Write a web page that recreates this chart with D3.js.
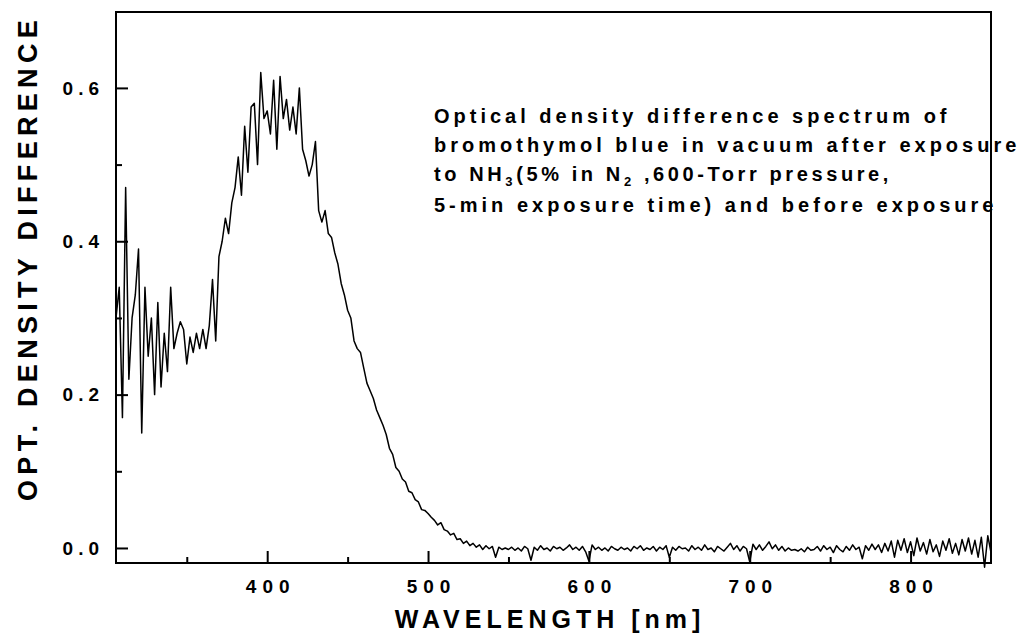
<!DOCTYPE html>
<html>
  <head>
      <meta charset ="utf-8">
      <title>OD difference spectrum</title>
      <script type="text/javascript" src="https://cdn.jsdelivr.net/npm/d3@7"></script>
      <style>
        body { margin: 0; background: #fff; }
        text { font-family: "Liberation Sans", Arial, sans-serif; font-weight: bold; fill: #000; }
      </style>
  </head>
    <body>

<script type="text/javascript">
// OD values, 2 nm steps from 306 nm to 850 nm
var od306to398 = [
  0.30, 0.34, 0.17, 0.47, 0.22, 0.30, 0.33, 0.39, 0.15, 0.34,
  0.25, 0.30, 0.20, 0.32, 0.21, 0.28, 0.23, 0.34, 0.26, 0.28,
  0.295, 0.285, 0.24, 0.275, 0.255, 0.28, 0.26, 0.285, 0.26, 0.29,
  0.35, 0.27, 0.38, 0.40, 0.43, 0.41, 0.45, 0.47, 0.51, 0.46,
  0.55, 0.49, 0.575, 0.58, 0.50, 0.62, 0.56
];
var od400to498 = [
  0.57, 0.54, 0.61, 0.52, 0.615, 0.56, 0.585, 0.545, 0.575, 0.54,
  0.60, 0.52, 0.505, 0.485, 0.50, 0.53, 0.44, 0.425, 0.44, 0.41,
  0.405, 0.385, 0.37, 0.345, 0.33, 0.31, 0.30, 0.27, 0.26, 0.255,
  0.235, 0.215, 0.205, 0.195, 0.18, 0.17, 0.16, 0.148, 0.13, 0.122,
  0.105, 0.10, 0.09, 0.086, 0.074, 0.072, 0.063, 0.06, 0.05, 0.049
];
var od500to548 = [
  0.045, 0.040, 0.036, 0.030, 0.033, 0.024, 0.022, 0.017, 0.019, 0.011,
  0.012, 0.006, 0.009, 0.003, 0.006, 0.001, 0.004, -0.002, 0.003, -0.001,
  0.002, -0.012, 0.001, -0.002, 0.000
];
var od550to850 = [
  -0.002, 0.001, -0.003, 0.000, -0.004, 0.002, -0.001, -0.016, 0.001, -0.003,
  0.003, -0.002, 0.000, -0.004, 0.002, -0.001, 0.001, -0.003, 0.000, 0.004,
  -0.002, 0.001, -0.003, 0.002, -0.005, -0.017, 0.004, -0.002, 0.001, -0.003,
  0.000, -0.004, 0.002, -0.001, -0.003, 0.001, -0.002, 0.000, -0.004, 0.002,
  -0.001, 0.003, -0.003, 0.000, -0.002, 0.002, -0.004, 0.001, -0.002, 0.003,
  -0.012, 0.001, -0.003, 0.002, -0.001, 0.000, -0.004, 0.003, -0.002, 0.001,
  -0.003, 0.004, -0.002, 0.000, -0.005, 0.002, -0.001, -0.004, 0.001, 0.006,
  -0.002, 0.003, -0.004, 0.002, -0.001, -0.018, 0.005, -0.002, 0.004, -0.003,
  0.002, 0.008, -0.001, 0.004, -0.003, 0.002, -0.004, 0.000, -0.003, -0.002,
  -0.004, -0.001, -0.005, 0.001, -0.003, -0.002, 0.002, -0.004, 0.003, -0.002,
  0.001, -0.006, 0.003, -0.002, -0.005, 0.002, -0.003, 0.004, -0.002, 0.001,
  -0.014, 0.003, -0.003, 0.005, -0.002, 0.004, -0.006, 0.006, -0.004, 0.009,
  -0.012, 0.010, -0.003, 0.012, -0.006, 0.008, -0.010, 0.013, -0.004, 0.007,
  -0.008, 0.011, -0.005, 0.004, -0.011, 0.009, -0.003, 0.012, -0.007, 0.006,
  -0.009, 0.011, -0.004, 0.013, -0.008, 0.010, -0.012, 0.014, -0.025, 0.016,
  -0.006
];
var xMajorTicks = [400, 500, 600, 700, 800];
var xMinorTicks = [350, 450, 550, 650, 750];
var yMajorTicks = [0.0, 0.2, 0.4, 0.6];
var yMinorTicks = [0.1, 0.3, 0.5];
var noteLines = [
  [{t: "Optical density difference spectrum of"}],
  [{t: "bromothymol blue in vacuum after exposure"}],
  [{t: "to NH"}, {t: "3", sub: true}, {t: "(5% in N"}, {t: "2", sub: true}, {t: " ,600-Torr pressure,"}],
  [{t: "5-min exposure time)  and before exposure"}]
];

var w = 1023;
var h = 644;
var pL = 116, pR = 991, pT = 12, pB = 563;

var wavelengths = d3.range(306, 851, 2);
var od = od306to398.concat(od400to498, od500to548, od550to850);
var dataset = wavelengths.map(function(d, i){ return [d, od[i]]; });

var svg = d3.select("body")
            .append("svg")
            .attr("width", w)
            .attr("height", h);

var Xscale = d3.scaleLinear()
              .domain([306, 850])
              .range([pL, pR]);
var Yscale = d3.scaleLinear()
              .domain([-0.0196, 0.699])
              .range([pB, pT]);

var line = d3.line()
             .x(function(d){ return Xscale(d[0]); })
             .y(function(d){ return Yscale(d[1]); });

svg.append("path")
   .datum(dataset)
   .attr("d", line)
   .attr("fill", "none")
   .attr("stroke", "#000")
   .attr("stroke-width", 1.5)
   .attr("stroke-linejoin", "round");

// inward ticks
var xAxis = d3.axisBottom(Xscale)
              .tickValues(xMajorTicks)
              .tickSize(-12)
              .tickPadding(17)
              .tickFormat(d3.format("d"));
var xMinor = d3.axisBottom(Xscale)
              .tickValues(xMinorTicks)
              .tickSize(-6)
              .tickFormat("");
var yAxis = d3.axisLeft(Yscale)
              .tickValues(yMajorTicks)
              .tickSize(-12)
              .tickPadding(12)
              .tickFormat(d3.format(".1f"));
var yMinor = d3.axisLeft(Yscale)
              .tickValues(yMinorTicks)
              .tickSize(-6)
              .tickFormat("");

[[xAxis, "translate(0," + pB + ")", 6], [xMinor, "translate(0," + pB + ")", 6],
 [yAxis, "translate(" + pL + ",0)", 5], [yMinor, "translate(" + pL + ",0)", 5]].forEach(function(a){
  var g = svg.append("g")
     .attr("transform", a[1])
     .call(a[0]);
  g.select(".domain").remove();
  g.selectAll(".tick line").attr("stroke", "#000").attr("stroke-width", 2);
  g.selectAll(".tick text")
   .style("font-size", "19px")
   .style("letter-spacing", a[2] + "px")
   .attr("fill", "#000");
});
svg.selectAll("g")
   .filter(function(){ return this.getAttribute("transform") === "translate(0," + pB + ")"; })
   .selectAll(".tick text")
   .attr("dx", 3);

svg.append("rect")
   .attr("x", pL)
   .attr("y", pT)
   .attr("width", pR - pL)
   .attr("height", pB - pT)
   .attr("fill", "none")
   .attr("stroke", "#000")
   .attr("stroke-width", 2);

svg.append("text")
   .attr("x", 550)
   .attr("y", 628)
   .attr("text-anchor", "middle")
   .style("font-size", "25px")
   .style("letter-spacing", "5px")
   .text("WAVELENGTH [nm]");

svg.append("text")
   .attr("transform", "translate(37,258) rotate(-90)")
   .attr("text-anchor", "middle")
   .style("font-size", "27px")
   .style("letter-spacing", "5.3px")
   .text("OPT. DENSITY DIFFERENCE");

var noteY = [123, 152, 181, 212];
var noteSpacing = [4, 4, 3.6, 4];
var note = svg.append("text")
              .style("font-size", "20px");
noteLines.forEach(function(parts, i){
  parts.forEach(function(p, j){
    var ts = note.append("tspan").text(p.t).style("letter-spacing", noteSpacing[i] + "px");
    if (j === 0) ts.attr("x", 434).attr("y", noteY[i]);
    if (p.sub) ts.attr("dy", 5).style("font-size", "13px");
    else if (j > 0 && parts[j - 1].sub) ts.attr("dy", -5);
  });
});
</script>

  </body>
</html>
